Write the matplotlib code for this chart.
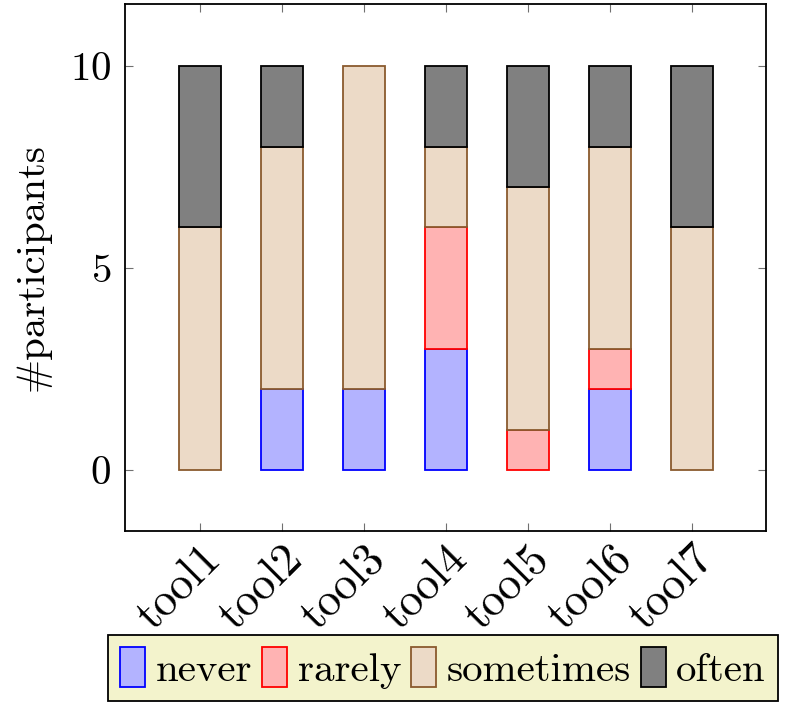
import matplotlib
matplotlib.use("Agg")
import matplotlib.pyplot as plt
import numpy as np

tools = ["tool1", "tool2", "tool3", "tool4", "tool5", "tool6", "tool7"]
never = [0, 2, 2, 3, 0, 2, 0]
rarely = [0, 0, 0, 3, 1, 1, 0]
sometimes = [6, 6, 8, 2, 6, 5, 6]
often = [4, 2, 0, 2, 3, 2, 4]

plt.rcParams['font.family'] = ['cmr10', 'DejaVu Serif']
plt.rcParams['axes.formatter.use_mathtext'] = True
plt.rcParams['font.size'] = 29.5

fig = plt.figure(figsize=(7.9, 7.12), dpi=100)
ax = fig.add_axes([125/790, 1-531/712, (766-125)/790, (531-4)/712])

x = np.arange(1, len(tools) + 1)
series = [
    ("never", never, "#b3b3ff", "#0000ff"),
    ("rarely", rarely, "#ffb3b3", "#ff0000"),
    ("sometimes", sometimes, "#ecdac7", "#8a5a2e"),
    ("often", often, "#808080", "#000000"),
]
bottom = np.zeros(len(tools))
for name, vals, fc, ec in series:
    vals = np.array(vals, dtype=float)
    # skip zero-height segments so they don't leave a stray edge line
    mask = vals > 0
    ax.bar(x[mask], vals[mask], width=0.51, bottom=bottom[mask],
           color=fc, edgecolor=ec, linewidth=1.3, zorder=3)
    ax.bar([np.nan], [0], color=fc, edgecolor=ec, linewidth=1.3, label=name)
    bottom += vals

ax.set_xlim(0.09, 7.9)
ax.set_ylim(-1.51, 11.53)
ax.set_yticks([0, 5, 10])
ax.set_xticks(x)
ax.set_xticklabels(tools, rotation=45, ha="right", rotation_mode="anchor",
                   fontsize=33)
ax.set_ylabel("#participants", labelpad=14)
ax.tick_params(direction="in", length=6, width=0.8, color="#707070",
               top=True, right=True)
ax.tick_params(axis="y", pad=10)
ax.tick_params(axis="x", pad=5)
for s in ax.spines.values():
    s.set_linewidth(1.3)

leg = fig.legend(loc="center", bbox_to_anchor=(443/790, 1-668/712), ncol=4,
                 frameon=True, fancybox=False, edgecolor="black",
                 facecolor="#f3f3cc", framealpha=1,
                 handlelength=0.62, handleheight=1.1, handletextpad=0.25,
                 columnspacing=0.24, borderpad=0.3, borderaxespad=0)
leg.get_frame().set_linewidth(1.3)

fig.savefig("out.png", dpi=100)
